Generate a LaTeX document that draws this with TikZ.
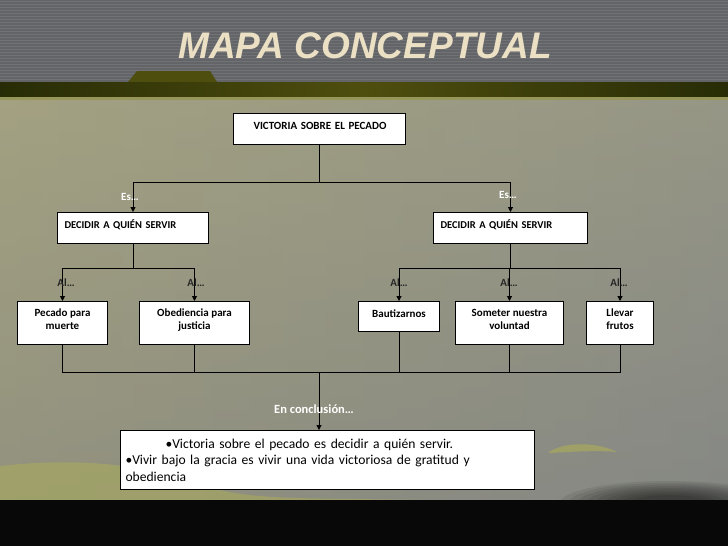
\documentclass[tikz,border=0pt]{standalone}
\usepackage{fontspec}
\setmainfont{Carlito}
\newfontfamily\titulofont{Liberation Sans}
\usetikzlibrary{arrows.meta}

\newlength{\du}
\setlength{\du}{1pt}

\tikzset{
  caja/.style={draw=black, fill=white, line width=1\du, align=left, anchor=north west,
    font=\bfseries\fontsize{10.5}{12}\selectfont, text height=7\du, text depth=7\du, inner ysep=8.5\du},
  hoja/.style={draw=black, fill=white, line width=1\du, align=center, inner sep=2\du,
    font=\bfseries\fontsize{11}{13}\selectfont, anchor=north west, text depth=8\du},
  conector/.style={draw=black, line width=1\du},
  flecha/.style={conector, -{Triangle[length=5pt,width=5pt]}},
  etiq/.style={inner sep=0, font=\bfseries\fontsize{11}{12}\selectfont},
}

\begin{document}
\begin{tikzpicture}[x=1\du, y=-1\du]
\definecolor{bandagris}{RGB}{98,100,104}
\definecolor{rayagris}{RGB}{112,114,118}
\definecolor{oliva}{RGB}{78,78,14}
\definecolor{olivaoscuro}{RGB}{40,44,6}
\definecolor{olivaclaro}{RGB}{150,150,90}
\definecolor{verdoso}{RGB}{168,170,92}
\definecolor{fondoarriba}{RGB}{163,161,129}
\definecolor{fondoabajo}{RGB}{126,128,125}
\definecolor{fondoderecha}{RGB}{140,142,138}
\definecolor{titulocolor}{RGB}{236,224,196}
\definecolor{negro}{RGB}{8,8,8}
\useasboundingbox (0,0) rectangle (728,546);

% fondo
\fill[bandagris] (0,0) rectangle (728,82);
\foreach \y in {1,4,...,79}
  \draw[rayagris, line width=0.7\du] (0,\y) -- (728,\y);
\fill[oliva] (137,71) -- (210,71) -- (217,82) -- (128,82) -- cycle;
\shade[left color=olivaoscuro, right color=olivaoscuro, middle color=oliva] (0,82) rectangle (728,97);
\fill[olivaclaro] (0,97) rectangle (728,100);
\shade[top color=fondoarriba, bottom color=fondoabajo] (0,100) rectangle (728,500);
\shade[left color=fondoarriba, right color=fondoderecha, fill opacity=0.55] (0,100) rectangle (728,500);
\fill[verdoso, fill opacity=0.6] (0,466) .. controls (100,455) and (160,470) .. (220,490) .. controls (260,500) and (320,498) .. (420,500) -- (0,500) -- cycle;
\fill[verdoso, fill opacity=0.7] (548,453) .. controls (565,440) and (600,443) .. (617,452) .. controls (595,450) and (570,452) .. (548,453) -- cycle;
\begin{scope}
\clip (540,440) rectangle (728,500);
\foreach \r in {1,0.92,...,0.3}
  \fill[black, fill opacity=0.08] (670,503) ellipse ({110*\r} and {22*\r});
\end{scope}
\fill[negro] (0,500) rectangle (728,546);

% titulo
\node[text=titulocolor, font=\titulofont\bfseries\itshape\fontsize{37}{40}\selectfont] (titulo) at (365,46) {MAPA CONCEPTUAL};

% conceptos
\node[caja, inner xsep=4\du, text width=164\du, font=\bfseries\fontsize{11}{12}\selectfont] (victoria) at (233,113) {\hspace*{16\du}VICTORIA SOBRE EL PECADO};
\node[caja, inner xsep=7\du, text width=137\du] (decidirA) at (57,212) {DECIDIR A QUIÉN SERVIR};
\node[caja, inner xsep=7\du, text width=140\du] (decidirB) at (433,212) {DECIDIR A QUIÉN SERVIR};

\node[hoja, minimum width=90\du, minimum height=43\du] (pecado) at (17,301) {Pecado para\\muerte};
\node[hoja, minimum width=110\du, minimum height=43\du] (obediencia) at (139,301) {Obediencia para\\justicia};
\node[hoja, minimum width=81\du, minimum height=30\du, text depth=6\du] (bautizarnos) at (358,301) {Bautizarnos};
\node[hoja, minimum width=108\du, minimum height=43\du] (someter) at (455,301) {Someter nuestra\\voluntad};
\node[hoja, minimum width=67\du, minimum height=43\du] (llevar) at (586,301) {Llevar\\frutos};

\node[draw=black, fill=white, line width=1\du, anchor=north west, align=left,
  text width=404\du, inner xsep=5\du, minimum height=59\du,
  font=\fontsize{13.6}{16.5}\selectfont] (conclusion) at (120,430)
  {\hspace*{40\du}•Victoria sobre el pecado es decidir a quién servir.\\
   •Vivir bajo la gracia es vivir una vida victoriosa de gratitud y\\
   obediencia};

% conectores
\coordinate (nivel1) at (0,182);
\coordinate (nivel2) at (0,268);
\coordinate (nivel3) at (0,372);
\coordinate (junta) at (319,372);

\draw[conector] (victoria.south) -- (victoria.south |- nivel1);
\draw[flecha] (victoria.south |- nivel1) -| (decidirA);
\draw[flecha] (victoria.south |- nivel1) -| (decidirB);

\draw[conector] (decidirA.south) -- (decidirA.south |- nivel2);
\draw[flecha] (decidirA.south |- nivel2) -| (pecado);
\draw[flecha] (decidirA.south |- nivel2) -| (obediencia);

\draw[conector] (decidirB.south) -- (decidirB.south |- nivel2);
\draw[flecha] (decidirB.south |- nivel2) -| (bautizarnos);
\draw[flecha] (decidirB.south |- nivel2) -| (someter);
\draw[flecha] (decidirB.south |- nivel2) -| (llevar);

\draw[conector] (pecado.south) |- (nivel3 -| llevar) -- (llevar.south);
\draw[conector] (obediencia.south) -- (obediencia.south |- nivel3);
\draw[conector] (bautizarnos.south) -- (bautizarnos.south |- nivel3);
\draw[conector] (someter.south) -- (someter.south |- nivel3);
\draw[flecha] (junta) -- (junta |- conclusion.north);

% etiquetas
\node[etiq, text=white] (es1) at (130,197) {Es…};
\node[etiq, text=white] (es2) at (508,195) {Es…};
\node[etiq, text=black!85] (al1) at (66,283) {Al…};
\node[etiq, text=black!85] (al2) at (196,283) {Al…};
\node[etiq, text=black!85] (al3) at (399,283) {Al…};
\node[etiq, text=black!85] (al4) at (509,283) {Al…};
\node[etiq, text=black!85] (al5) at (619,283) {Al…};
\node[etiq, text=white, font=\bfseries\fontsize{12.5}{13}\selectfont] (enconclusion) at (314,409) {En conclusión…};
\end{tikzpicture}
\end{document}
